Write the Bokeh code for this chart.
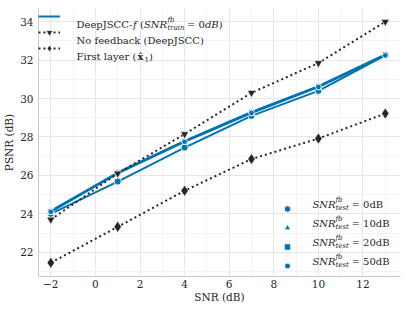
from bokeh.plotting import figure
from bokeh.models import Range1d, Legend, LegendItem, Label, FixedTicker
from bokeh.embed import file_html
from bokeh.resources import INLINE

# ---- data ----
snr = [-2, 1, 4, 7, 10, 13]
fb_test_0 = [24.0, 25.68, 27.45, 29.1, 30.4, 32.25]
fb_test_10 = [24.15, 26.15, 27.8, 29.3, 30.65, 32.3]
fb_test_20 = [24.12, 26.12, 27.77, 29.27, 30.62, 32.27]
fb_test_50 = [24.1, 26.1, 27.75, 29.25, 30.6, 32.25]
no_feedback = [23.7, 26.1, 28.15, 30.3, 31.85, 34.0]
first_layer = [21.45, 23.32, 25.2, 26.85, 27.92, 29.22]
x_ticks = [-2, 0, 2, 4, 6, 8, 10, 12]
y_ticks = [22, 24, 26, 28, 30, 32, 34]
x_minor = list(range(-2, 14))
y_minor = list(range(21, 35))
fb_labels = ["0dB", "10dB", "20dB", "50dB"]

BLUE = "#0173b2"
DARK = "#262626"
FONT = "DejaVu Serif"

p = figure(width=407, height=312, output_backend="svg", toolbar_location=None,
           x_range=Range1d(-2.552, 13.682), y_range=Range1d(20.735, 34.69),
           min_border_left=38, min_border_right=7, min_border_top=8,
           min_border_bottom=36)
p.outline_line_color = None
p.background_fill_color = "white"

for ax, ticks, minor in ((p.xaxis, x_ticks, x_minor), (p.yaxis, y_ticks, y_minor)):
    ax.ticker = FixedTicker(ticks=ticks, minor_ticks=minor)
    ax.axis_line_color = "#c8c8c8"
    ax.major_tick_line_color = None
    ax.minor_tick_line_color = None
    ax.major_tick_out = 0
    ax.major_tick_in = 0
    ax.minor_tick_out = 0
    ax.minor_tick_in = 0
    ax.major_label_text_font = FONT
    ax.major_label_text_font_size = "10.5px"
    ax.major_label_text_color = DARK
    ax.axis_label_text_font = FONT
    ax.axis_label_text_font_size = "10.5px"
    ax.axis_label_text_font_style = "normal"
    ax.axis_label_text_color = DARK

p.xaxis.axis_label = "SNR (dB)"
p.yaxis.axis_label = "PSNR (dB)"
p.xaxis.major_label_standoff = 3
p.xaxis.axis_label_standoff = 0
p.yaxis.major_label_standoff = 5
p.yaxis.axis_label_standoff = 2
p.xaxis.major_label_overrides = {-2: "\u22122"}

for g in (p.xgrid, p.ygrid):
    g.grid_line_color = "#e6e6e6"
    g.grid_line_width = 1
    g.minor_grid_line_color = "#f3f3f3"
    g.minor_grid_line_width = 1

# ---- blue series ----
series = [(fb_test_0, "circle", 7), (fb_test_10, "triangle", 7),
          (fb_test_20, "square", 6), (fb_test_50, "hex", 6)]
blue_lines, blue_marks = [], []
for ys, mk, sz in series:
    l = p.line(snr, ys, line_color=BLUE, line_width=2)
    s = p.scatter(snr, ys, marker=mk, size=sz, fill_color=BLUE,
                  line_color="white", line_width=0.8)
    blue_lines.append(l)
    blue_marks.append(s)

# ---- black series ----
l_nf = p.line(snr, no_feedback, line_color=DARK, line_width=2, line_dash="2 3")
s_nf = p.scatter(snr, no_feedback, marker="inverted_triangle", size=8,
                 fill_color=DARK, line_color="white", line_width=0.5)
l_fl = p.line(snr, first_layer, line_color=DARK, line_width=2, line_dash="2 3")
s_fl = p.scatter(snr, first_layer, marker="diamond", size=11,
                 fill_color=DARK, line_color="white", line_width=0.5)

# ---- legend A (top left), glyph swatches ----
legA = Legend(items=[LegendItem(label=" ", renderers=[blue_lines[0]]),
                     LegendItem(label=" ", renderers=[l_nf, s_nf]),
                     LegendItem(label=" ", renderers=[l_fl, s_fl])],
              location="top_left", margin=0, padding=8, spacing=0,
              glyph_width=22, glyph_height=16, label_height=16, label_width=0,
              label_standoff=0, border_line_color=None, background_fill_alpha=0,
              label_text_font_size="1px")
p.add_layout(legA)

# ---- legend B (bottom right), markers only ----
legB = Legend(items=[LegendItem(label=" ", renderers=[m]) for m in blue_marks],
              location=(241, 1), margin=0, padding=5, spacing=0,
              glyph_width=16, glyph_height=19, label_height=19, label_width=0,
              label_standoff=0, border_line_color=None, background_fill_alpha=0,
              label_text_font_size="1px")
p.add_layout(legB)

# frame: left at page x 38, bottom at page y 276
def lab(text, px, py, size="10px", style="normal"):
    p.add_layout(Label(x=px - 38, y=276 - py, x_units="screen", y_units="screen",
                       text=text, text_font=FONT, text_font_size=size,
                       text_font_style=style, text_color=DARK,
                       text_baseline="middle", text_align="left"))

# row 1
lab("DeepJSCC-", 76, 24)
lab("f", 132.5, 24, style="italic")
lab("(", 139.4, 24)
lab("SNR", 143.5, 24, style="italic")
lab("fb", 167, 19.5, size="7px", style="italic")
lab("train", 167, 27.5, size="7px", style="italic")
lab("=", 186.5, 24)
lab("0", 198, 24)
lab("dB", 204.4, 24, style="italic")
lab(")", 218.2, 24)
# row 2
lab("No feedback (DeepJSCC)", 76, 40)
# row 3
lab("First layer (", 76, 56)
lab("x\u0302", 137, 56, style="bold")
lab("1", 144, 58.5, size="7px")
lab(")", 148.5, 56)

# legend B text
for i, t in enumerate(fb_labels):
    py = 203.5 + 19 * i
    lab("SNR", 312, py, style="italic")
    lab("fb", 335, py - 4.5, size="7px", style="italic")
    lab("test", 335, py + 3.5, size="7px", style="italic")
    lab("= " + t, 351, py)

open("out.html", "w").write(file_html(p, INLINE))
